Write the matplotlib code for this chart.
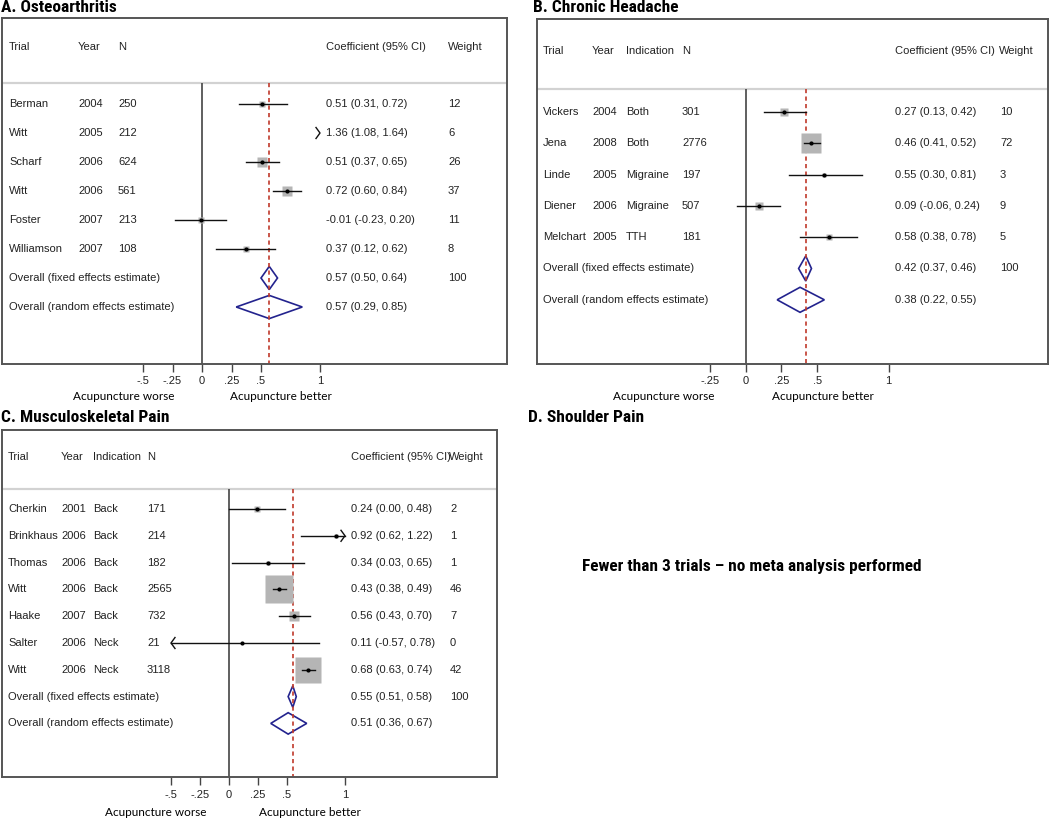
import matplotlib.pyplot as plt
from matplotlib.patches import Polygon
from matplotlib import font_manager
import numpy as np

# ============================
# DATA
# ============================

# A. Osteoarthritis
oa_trial = ["Berman", "Witt", "Scharf", "Witt", "Foster", "Williamson"]
oa_year = [2004, 2005, 2006, 2006, 2007, 2007]
oa_n = [250, 212, 624, 561, 213, 108]
oa_est = [0.51, 1.36, 0.51, 0.72, -0.01, 0.37]
oa_lo = [0.31, 1.08, 0.37, 0.60, -0.23, 0.12]
oa_hi = [0.72, 1.64, 0.65, 0.84, 0.20, 0.62]
oa_weight = [12, 6, 26, 37, 11, 8]
oa_fixed = (0.57, 0.50, 0.64)
oa_random = (0.57, 0.29, 0.85)

# B. Chronic Headache
ch_trial = ["Vickers", "Jena", "Linde", "Diener", "Melchart"]
ch_year = [2004, 2008, 2005, 2006, 2005]
ch_ind = ["Both", "Both", "Migraine", "Migraine", "TTH"]
ch_n = [301, 2776, 197, 507, 181]
ch_est = [0.27, 0.46, 0.55, 0.09, 0.58]
ch_lo = [0.13, 0.41, 0.30, -0.06, 0.38]
ch_hi = [0.42, 0.52, 0.81, 0.24, 0.78]
ch_weight = [10, 72, 3, 9, 5]
ch_fixed = (0.42, 0.37, 0.46)
ch_random = (0.38, 0.22, 0.55)

# C. Musculoskeletal Pain
mp_trial = ["Cherkin", "Brinkhaus", "Thomas", "Witt", "Haake", "Salter", "Witt"]
mp_year = [2001, 2006, 2006, 2006, 2007, 2006, 2006]
mp_ind = ["Back", "Back", "Back", "Back", "Back", "Neck", "Neck"]
mp_n = [171, 214, 182, 2565, 732, 21, 3118]
mp_est = [0.24, 0.92, 0.34, 0.43, 0.56, 0.11, 0.68]
mp_lo = [0.00, 0.62, 0.03, 0.38, 0.43, -0.57, 0.63]
mp_hi = [0.48, 1.22, 0.65, 0.49, 0.70, 0.78, 0.74]
mp_weight = [2, 1, 1, 46, 7, 0, 42]
mp_fixed = (0.55, 0.51, 0.58)
mp_random = (0.51, 0.36, 0.67)

tick_vals_ac = [-0.5, -0.25, 0, 0.25, 0.5, 1]
tick_vals_b = [-0.25, 0, 0.25, 0.5, 1]

# ============================
# STYLE
# ============================

W, H = 1050, 819
TXT = "#222222"
FONT = ["Liberation Sans", "DejaVu Sans"]
LABEL_FONT = ["Lato", "DejaVu Sans"]
SQ_COL = "#b5b5b5"
DIA_COL = "#23238e"
RED = "#c0392b"

# pick a narrow bold face for titles if one is installed
names = sorted({f.name for f in font_manager.fontManager.ttflist})
NARROW = ["DejaVu Sans"]
for cand in ["Liberation Sans Narrow", "DejaVu Sans Condensed", "Roboto Condensed",
             "Open Sans Condensed"]:
    if cand in names:
        NARROW = [cand, "DejaVu Sans"]
        break

fig = plt.figure(figsize=(10.5, 8.19), dpi=100)


def fig_text(px, py, s, **kw):
    fig.text(px / W, 1 - py / H, s, **kw)


def tick_label(v):
    if v == 0:
        return "0"
    if v == int(v):
        return str(int(v))
    return ("%g" % v).replace("0.", ".")


def forest(lay, trial, year, ind, n, est, lo, hi, weight, fixed, random, ticks):
    l, t, r, b = lay["box"]
    zero, unit = lay["zero"], lay["unit"]
    row0, step = lay["row0"], lay["step"]
    xmin, xmax = lay["xr"]

    ax = fig.add_axes([l / W, 1 - b / H, (r - l) / W, (b - t) / H])
    ax.set_xlim((l - zero) / unit, (r - zero) / unit)
    ybot = (b - row0) / step
    ytop = (t - row0) / step
    ax.set_ylim(ybot, ytop)

    def xd(px):
        return (px - zero) / unit

    def yd(py):
        return (py - row0) / step

    sep = yd(lay["sep"])
    ax.axhline(sep, color="#d2d2d2", lw=1.6)
    ax.vlines(0, sep, ybot, color="#444444", lw=1.2)
    ax.vlines(fixed[0], sep, ybot, color=RED, lw=1.2, linestyles=(0, (2.5, 2)))

    cols = lay["cols"]
    hy = yd(lay["header"])
    tk = dict(fontsize=8, color=TXT, family=FONT, va="center")
    ax.text(xd(cols["trial"]), hy, "Trial", **tk)
    ax.text(xd(cols["year"]), hy, "Year", **tk)
    if ind is not None:
        ax.text(xd(cols["ind"]), hy, "Indication", **tk)
    ax.text(xd(cols["n"]), hy, "N", **tk)
    ax.text(xd(cols["coef"]), hy, "Coefficient (95% CI)", **tk)
    ax.text(xd(cols["wt_head"]), hy, "Weight", **tk)

    for i in range(len(trial)):
        y = i
        ax.text(xd(cols["trial"]), y, trial[i], **tk)
        ax.text(xd(cols["year"]), y, str(year[i]), **tk)
        if ind is not None:
            ax.text(xd(cols["ind"]), y, ind[i], **tk)
        ax.text(xd(cols["n"]), y, str(n[i]), **tk)
        ax.text(xd(cols["coef"]), y,
                "%.2f (%.2f, %.2f)" % (est[i], lo[i], hi[i]), **tk)
        ax.text(xd(cols["wt"]), y, str(weight[i]), **tk)

        # weight square
        if xmin <= est[i] <= xmax and weight[i] > 0:
            side = lay["sq"] * np.sqrt(weight[i]) * 0.72
            ax.plot(est[i], y, marker="s", ms=side, color=SQ_COL, mec="none")

        # confidence interval, clipped with chevrons
        a = max(lo[i], xmin)
        c = min(hi[i], xmax)
        if c > a:
            ax.plot([a, c], [y, y], color="#111111", lw=1.0)
        dx = 4 / unit
        dy = 5.5 / step
        if hi[i] > xmax:
            ax.plot([xmax - dx, xmax, xmax - dx], [y - dy, y, y + dy],
                    color="#111111", lw=1.0)
        if lo[i] < xmin:
            ax.plot([xmin + dx, xmin, xmin + dx], [y - dy, y, y + dy],
                    color="#111111", lw=1.0)
        if xmin <= est[i] <= xmax:
            ax.plot(est[i], y, marker="o", ms=3, color="black", mec="none")

    # pooled estimates
    k = len(trial)
    for j, (pool, lab, wt) in enumerate([(fixed, "Overall (fixed effects estimate)", "100"),
                                         (random, "Overall (random effects estimate)", "")]):
        y = k + j
        e, pl, ph = pool
        h = 0.4
        ax.add_patch(Polygon([(pl, y), (e, y - h), (ph, y), (e, y + h)],
                             closed=True, fill=False, edgecolor=DIA_COL, lw=1.2))
        ax.text(xd(cols["trial"]), y, lab, **tk)
        ax.text(xd(cols["coef"]), y, "%.2f (%.2f, %.2f)" % pool, **tk)
        if wt:
            ax.text(xd(cols["wt"]), y, wt, **tk)

    # axes frame and ticks
    for s in ax.spines.values():
        s.set_color("#555555")
        s.set_linewidth(1.4)
    ax.set_yticks([])
    ax.set_xticks(ticks)
    ax.set_xticklabels([tick_label(v) for v in ticks])
    ax.tick_params(axis="x", direction="out", length=6, width=1, color="#444444",
                   labelsize=8, labelcolor=TXT, pad=3)
    for lbl in ax.get_xticklabels():
        lbl.set_family(FONT)

    # direction labels
    lk = dict(fontsize=8.5, color="black", family=LABEL_FONT, ha="center", va="center")
    fig_text(lay["worse"], lay["lab_y"], "Acupuncture worse", **lk)
    fig_text(lay["better"], lay["lab_y"], "Acupuncture better", **lk)
    return ax


lay_a = dict(box=(2, 18, 507, 364), zero=202, unit=118, row0=104, step=29,
             header=47, sep=83, xr=(-0.5, 1.0), sq=1.8,
             cols=dict(trial=9, year=78, n=118, coef=326, wt=448, wt_head=448),
             worse=124, better=281, lab_y=396)
lay_b = dict(box=(537, 19, 1048, 364), zero=745.7, unit=143, row0=112, step=31.3,
             header=51, sep=89, xr=(-0.25, 1.0), sq=2.36,
             cols=dict(trial=543, year=592, ind=626, n=682, coef=895, wt=1000, wt_head=999),
             worse=664, better=823, lab_y=396)
lay_c = dict(box=(2, 430, 497, 777), zero=229, unit=116, row0=509, step=26.8,
             header=457, sep=489, xr=(-0.5, 1.0), sq=4.0,
             cols=dict(trial=8, year=61, ind=93, n=147, coef=351, wt=450, wt_head=449),
             worse=156, better=310, lab_y=813)

forest(lay_a, oa_trial, oa_year, None, oa_n, oa_est, oa_lo, oa_hi, oa_weight,
       oa_fixed, oa_random, tick_vals_ac)
forest(lay_b, ch_trial, ch_year, ch_ind, ch_n, ch_est, ch_lo, ch_hi, ch_weight,
       ch_fixed, ch_random, tick_vals_b)
forest(lay_c, mp_trial, mp_year, mp_ind, mp_n, mp_est, mp_lo, mp_hi, mp_weight,
       mp_fixed, mp_random, tick_vals_ac)

# panel titles
tt = dict(fontsize=12.5, fontweight="bold", color="black", family=NARROW,
          ha="left", va="center")
fig_text(1, 8, "A. Osteoarthritis", **tt)
fig_text(533, 8, "B. Chronic Headache", **tt)
fig_text(1, 417, "C. Musculoskeletal Pain", **tt)
fig_text(528, 417, "D. Shoulder Pain", **tt)
fig_text(582, 567, "Fewer than 3 trials \u2013 no meta analysis performed",
         fontsize=12.4, fontweight="bold", color="black", family=NARROW,
         ha="left", va="center")

fig.savefig("out.png", dpi=100)
